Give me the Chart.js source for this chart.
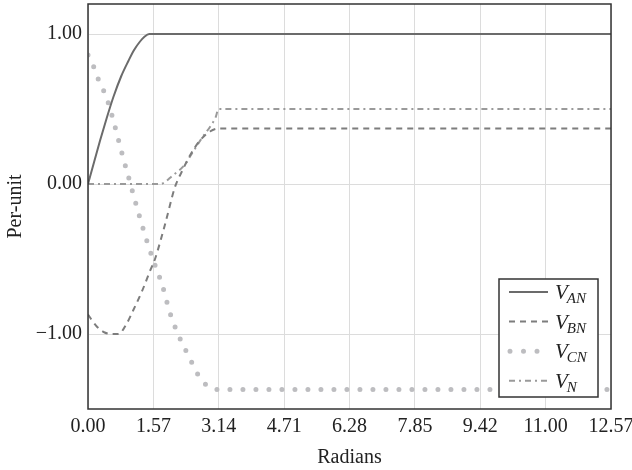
<!DOCTYPE html>
<html>
<head>
<meta charset="utf-8">
<script src="https://cdn.jsdelivr.net/npm/chart.js@4"></script>
<style>
  html, body { margin: 0; padding: 0; background: #fff; }
  #wrap { width: 632px; height: 470px; }
</style>
</head>
<body>
<div id="wrap"><canvas id="myChart" width="632" height="470"></canvas></div>
<script>
// values (x in radians, y in per-unit)
const xAN = [0, 0.15, 0.29, 0.45, 0.61, 0.8, 0.97, 1.1, 1.25, 1.35, 1.47, 12.57];
const vAN = [0, 0.15, 0.29, 0.44, 0.58, 0.72, 0.82, 0.89, 0.95, 0.98, 1.0, 1.0];

const xBN = [0, 0.21, 0.4, 0.57, 0.73, 0.93, 1.09, 1.29, 1.49, 1.61, 1.85, 2.09, 2.25, 2.45, 2.69, 2.93, 3.14, 12.57];
const vBN = [-0.87, -0.95, -0.99, -1.0, -1.0, -0.93, -0.84, -0.72, -0.58, -0.5, -0.27, -0.02, 0.08, 0.19, 0.29, 0.35, 0.37, 0.37];

const xCN = [0, 0.14, 0.23, 0.38, 0.5, 0.67, 0.83, 1.01, 1.19, 1.37, 1.57, 1.79, 1.97, 2.21, 2.46, 2.6, 2.77, 2.95, 3.14, 12.57];
const vCN = [0.86, 0.78, 0.71, 0.62, 0.53, 0.36, 0.19, 0.01, -0.17, -0.34, -0.51, -0.68, -0.86, -1.03, -1.17, -1.25, -1.32, -1.36, -1.37, -1.37];

const xN = [0, 1.73, 2.05, 2.33, 2.49, 2.77, 2.93, 3.06, 3.14, 12.57];
const vN = [0, 0, 0.06, 0.13, 0.2, 0.32, 0.38, 0.44, 0.5, 0.5];

const xTickVals = [0, 1.5708, 3.1416, 4.7124, 6.2832, 7.854, 9.4248, 10.9956, 12.5664];
const xTickLabels = ["0.00", "1.57", "3.14", "4.71", "6.28", "7.85", "9.42", "11.00", "12.57"];
const yTickVals = [-1, 0, 1];
const yTickLabels = ["\u22121.00", "0.00", "1.00"];

const seriesNames = ["AN", "BN", "CN", "N"];

function pts(xs, ys) {
    return xs.map((x, i) => ({ x: x, y: ys[i] }));
}

const serif = "'Liberation Serif', 'DejaVu Serif', serif";
const ink = "#222";

const styles = [
    { color: "#6b6b6b", width: 2, dash: [], cap: "butt" },
    { color: "#7d7d7d", width: 2, dash: [6, 5], cap: "butt" },
    { color: "#bdbdc0", width: 5, dash: [0, 13], cap: "round" },
    { color: "#9a9a9a", width: 2, dash: [6, 4, 2, 4], cap: "butt" }
];

const chartData = {
    datasets: [
        { label: "AN", data: pts(xAN, vAN) },
        { label: "BN", data: pts(xBN, vBN) },
        { label: "CN", data: pts(xCN, vCN) },
        { label: "N", data: pts(xN, vN) }
    ].map((d, i) => Object.assign(d, {
        borderColor: styles[i].color,
        borderWidth: styles[i].width,
        borderDash: styles[i].dash,
        borderCapStyle: styles[i].cap,
        pointRadius: 0,
        fill: false,
        cubicInterpolationMode: "monotone"
    }))
};

// frame around the plot + hand drawn legend (needs subscripts)
const framePlugin = {
    id: "frame",
    afterDraw(chart) {
        const ctx = chart.ctx;
        const a = chart.chartArea;
        ctx.save();
        ctx.strokeStyle = "#333";
        ctx.lineWidth = 1.5;
        ctx.strokeRect(a.left, a.top, a.right - a.left, a.bottom - a.top);

        const bx = 499, by = 279, bw = 99, bh = 118;
        ctx.fillStyle = "#fff";
        ctx.fillRect(bx, by, bw, bh);
        ctx.strokeRect(bx, by, bw, bh);

        seriesNames.forEach((name, i) => {
            const y = 292 + i * 29.6;
            const s = styles[i];
            ctx.strokeStyle = s.color;
            ctx.lineWidth = s.width;
            ctx.lineCap = s.cap;
            ctx.setLineDash(s.dash.length ? s.dash : []);
            ctx.beginPath();
            if (i === 2) {
                ctx.setLineDash([0, 13.5]);
                ctx.moveTo(510, y);
                ctx.lineTo(540, y);
            } else {
                ctx.moveTo(509, y);
                ctx.lineTo(548, y);
            }
            ctx.stroke();
            ctx.setLineDash([]);
            ctx.lineCap = "butt";

            ctx.fillStyle = ink;
            ctx.textBaseline = "alphabetic";
            ctx.font = "italic 21px " + serif;
            ctx.fillText("V", 555, y + 7);
            const vw = ctx.measureText("V").width;
            ctx.font = "italic 15px " + serif;
            ctx.fillText(name, 555 + vw - 1, y + 11);
        });
        ctx.restore();
    }
};

const chartConfig = {
    type: "line",
    data: chartData,
    options: {
        responsive: false,
        animation: false,
        layout: { padding: { top: 4, right: 21, left: 0, bottom: 0 } },
        plugins: {
            legend: { display: false },
            tooltip: { enabled: false }
        },
        scales: {
            x: {
                type: "linear",
                min: 0,
                max: 12.5664,
                afterFit(scale) {
                    scale.height = 61;
                    scale.paddingLeft = 0;
                    scale.paddingRight = 0;
                },
                afterBuildTicks(scale) {
                    scale.ticks = xTickVals.map(v => ({ value: v }));
                },
                ticks: {
                    autoSkip: false,
                    maxRotation: 0,
                    padding: 6,
                    color: ink,
                    font: { family: serif, size: 20 },
                    callback: (v, i) => xTickLabels[i]
                },
                grid: { color: "#dcdcdc", lineWidth: 1, drawTicks: false },
                border: { display: false },
                title: {
                    display: true,
                    text: "Radians",
                    color: ink,
                    font: { family: serif, size: 20 },
                    padding: { top: 0, bottom: 0 }
                }
            },
            y: {
                type: "linear",
                min: -1.5,
                max: 1.2,
                afterFit(scale) {
                    scale.width = 88;
                    scale.paddingTop = 0;
                    scale.paddingBottom = 0;
                },
                afterBuildTicks(scale) {
                    scale.ticks = yTickVals.map(v => ({ value: v }));
                },
                ticks: {
                    autoSkip: false,
                    padding: 6,
                    color: ink,
                    font: { family: serif, size: 20 },
                    callback: (v, i) => yTickLabels[i]
                },
                grid: { color: "#dcdcdc", lineWidth: 1, drawTicks: false },
                border: { display: false },
                title: {
                    display: true,
                    text: "Per-unit",
                    color: ink,
                    font: { family: serif, size: 20 },
                    padding: { top: 4, bottom: 3 }
                }
            }
        }
    },
    plugins: [framePlugin]
};

const myChart = new Chart(document.getElementById("myChart"), chartConfig);
</script>
</body>
</html>
